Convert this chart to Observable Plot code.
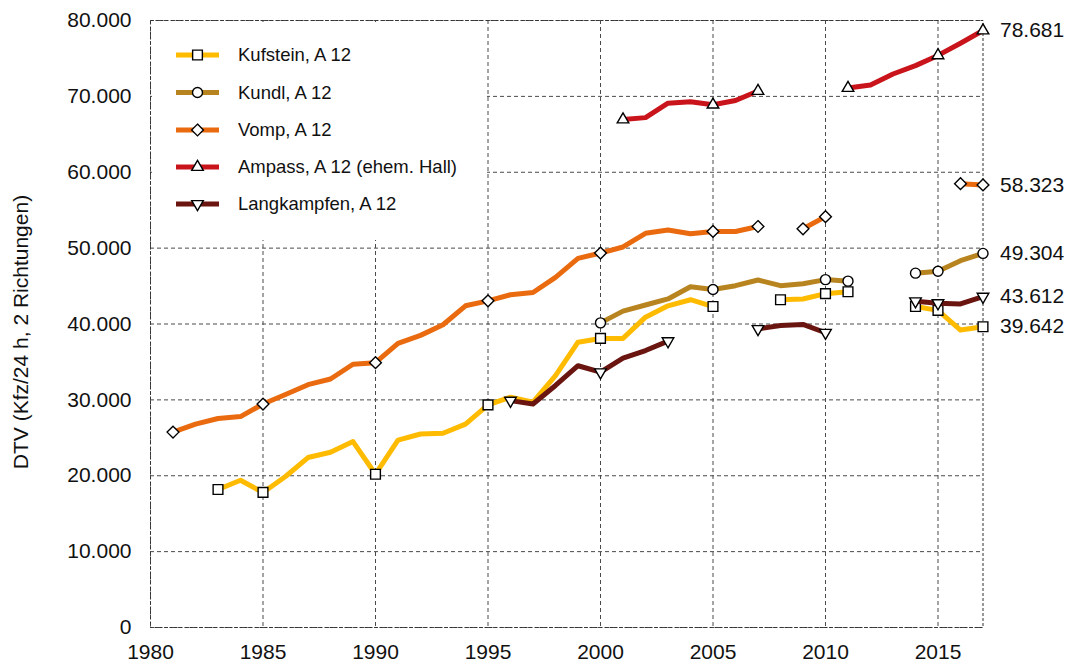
<!DOCTYPE html>
<html>
<head>
<meta charset="utf-8">
<script src="https://cdn.jsdelivr.net/npm/d3@7"></script>
<script src="https://cdn.jsdelivr.net/npm/@observablehq/plot@0.6"></script>
<style>
  html, body { margin: 0; padding: 0; background: #fff; }
  #chart { width: 1070px; height: 666px; }
</style>
</head>
<body>
<div id="chart"></div>
<script>
// ---- Data ----
const years = [1981,1982,1983,1984,1985,1986,1987,1988,1989,1990,1991,1992,1993,1994,1995,1996,1997,1998,1999,2000,
               2001,2002,2003,2004,2005,2006,2007,2008,2009,2010,2011,2012,2013,2014,2015,2016,2017];

const kufstein = [null,null,18190,19400,17800,19900,22400,23100,24500,20200,24700,25500,25600,26800,29350,30350,29700,33200,37600,38100,
                  38100,40900,42400,43200,42300,null,null,43200,43300,44000,44250,null,null,42300,41800,39200,39642];
const kundl = [null,null,null,null,null,null,null,null,null,null,null,null,null,null,null,null,null,null,null,40150,
               41700,42500,43300,44900,44550,45050,45800,45050,45300,45850,45650,null,null,46700,46950,48350,49304];
const vomp = [25750,26800,27550,27800,29450,30700,32000,32750,34700,34900,37450,38500,39900,42400,43050,43850,44150,46150,48650,49350,
              50150,51950,52400,51900,52200,52200,52850,null,52550,54150,null,null,null,null,null,58500,58323];
const ampass = [null,null,null,null,null,null,null,null,null,null,null,null,null,null,null,null,null,null,null,null,
                66950,67200,69100,69300,68900,69450,70700,null,null,null,71100,71500,72950,74050,75400,77000,78681];
const langkampfen = [null,null,null,null,null,null,null,null,null,null,null,null,null,null,null,29900,29450,31900,34500,33650,
                     35500,36500,37750,null,null,null,39350,39800,39950,38850,null,null,null,43000,42750,42650,43612];

const seriesNames = ["Kufstein, A 12", "Kundl, A 12", "Vomp, A 12", "Ampass, A 12 (ehem. Hall)", "Langkampfen, A 12"];
const seriesValues = [kufstein, kundl, vomp, ampass, langkampfen];
const seriesColors = ["#FFBB00", "#B8841F", "#EA6B0F", "#C9141B", "#6B1511"];
const seriesSymbols = ["square", "circle", "diamond2", "triangle", "triangle"];
const seriesRotate = [0, 0, 0, 0, 180];
const seriesR = [5.5, 5, 5.3, 4.3, 4.3];

const xTicks = [1980, 1985, 1990, 1995, 2000, 2005, 2010, 2015];
const yTicks = [0, 10000, 20000, 30000, 40000, 50000, 60000, 70000, 80000];
const yTitle = "DTV (Kfz/24 h, 2 Richtungen)";

// ---- Build tables ----
const deFmt = d3.formatLocale({decimal: ",", thousands: ".", grouping: [3], currency: ["", " €"]}).format(",d");
const FONT = "'Liberation Sans', Arial, Helvetica, sans-serif";

const tables = seriesValues.map((vals, si) => vals.map((v, i) => {
  const prev = i > 0 ? vals[i - 1] : null;
  const next = i < vals.length - 1 ? vals[i + 1] : null;
  const marker = v != null && (years[i] % 5 === 0 || prev == null || next == null);
  return {series: seriesNames[si], year: years[i], value: v, marker};
}));

const marks = [
  Plot.ruleX(xTicks, {stroke: "#4a4a4a", strokeWidth: 1, strokeDasharray: "4,3"}),
  Plot.ruleY(yTicks, {stroke: "#4a4a4a", strokeWidth: 1, strokeDasharray: "4,3"}),
  Plot.frame({stroke: "#333", strokeWidth: 1, strokeDasharray: "3,2"})
];

tables.forEach((rows, si) => {
  marks.push(Plot.line(rows, {x: "year", y: "value", stroke: seriesColors[si], strokeWidth: 5,
    strokeLinejoin: "round", strokeLinecap: "butt"}));
  marks.push(Plot.dot(rows.filter(d => d.marker), {x: "year", y: "value", symbol: seriesSymbols[si],
    rotate: seriesRotate[si], r: seriesR[si], fill: "white", stroke: "black", strokeWidth: 1.4}));
});

const lastPoints = tables.map(rows => rows[rows.length - 1]);
marks.push(Plot.text(lastPoints, {x: "year", y: "value", text: d => deFmt(d.value), dx: 17,
  textAnchor: "start", fontSize: 21, fill: "#111"}));

const chart = Plot.plot({
  width: 1070,
  height: 666,
  marginLeft: 150,
  marginRight: 87.5,
  marginTop: 20,
  marginBottom: 39,
  style: {fontFamily: FONT, fontSize: "21px", color: "#111", background: "white"},
  x: {domain: [1980, 2017], ticks: xTicks, tickFormat: d => String(d), tickSize: 0, tickPadding: 17, label: null},
  y: {domain: [0, 80000], ticks: yTicks, tickFormat: deFmt, tickSize: 0, tickPadding: 19, label: null},
  marks
});

document.getElementById("chart").appendChild(chart);

// ---- Legend (inside SVG, white box hiding gridlines) ----
const svg = d3.select(chart);
const firstLine = chart.querySelector('[aria-label="line"]');
const legend = svg.insert("g", () => firstLine).attr("class", "legend").attr("text-anchor", "start");
legend.append("rect").attr("x", 152).attr("y", 22).attr("width", 335).attr("height", 218).attr("fill", "white");
const rowY = [55, 92.5, 130, 167, 204];
const symMap = {square: d3.symbolSquare, circle: d3.symbolCircle, diamond2: d3.symbolDiamond2, triangle: d3.symbolTriangle};
seriesNames.forEach((name, i) => {
  const g = legend.append("g");
  g.append("line").attr("x1", 176).attr("x2", 219).attr("y1", rowY[i]).attr("y2", rowY[i])
    .attr("stroke", seriesColors[i]).attr("stroke-width", 5);
  g.append("path").attr("d", d3.symbol(symMap[seriesSymbols[i]], Math.PI * seriesR[i] * seriesR[i])())
    .attr("transform", `translate(197.5,${rowY[i]}) rotate(${seriesRotate[i]})`)
    .attr("fill", "white").attr("stroke", "black").attr("stroke-width", 1.4);
  g.append("text").attr("x", 238).attr("y", rowY[i]).attr("dy", "0.35em")
    .attr("text-anchor", "start")
    .attr("font-size", 18.5).attr("fill", "#111").text(name);
});

// ---- Y axis title ----
svg.append("text")
  .attr("transform", "translate(21,332) rotate(-90)")
  .attr("text-anchor", "middle").attr("dy", "0.35em")
  .attr("font-size", 21).attr("fill", "#111")
  .text(yTitle);
</script>
</body>
</html>
